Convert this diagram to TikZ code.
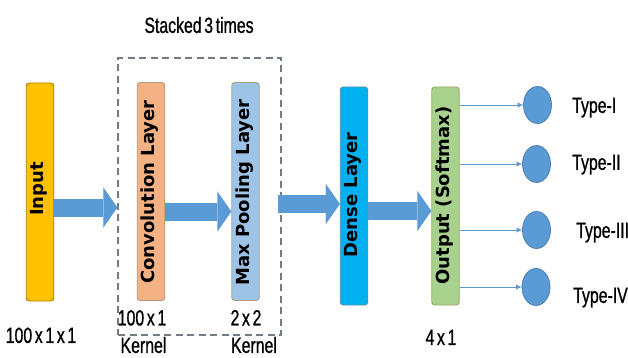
\documentclass[tikz,border=0pt]{standalone}
\usepackage{fontspec}
\newfontfamily\labfont[FakeStretch=0.72,FakeBold=0.9,WordSpace=0.6]{Liberation Sans}
\newfontfamily\barfont{DejaVu Sans}
\usetikzlibrary{arrows.meta,shapes.geometric}
\definecolor{cIn}{HTML}{FFC000}
\definecolor{cInD}{HTML}{A88000}
\definecolor{cConv}{HTML}{F4B183}
\definecolor{cConvD}{HTML}{B09878}
\definecolor{cMax}{HTML}{9DC3E6}
\definecolor{cMaxD}{HTML}{A8A080}
\definecolor{cDense}{HTML}{00B0F0}
\definecolor{cDenseD}{HTML}{5A8FA8}
\definecolor{cOut}{HTML}{A9D18E}
\definecolor{cOutD}{HTML}{9AA860}
\definecolor{cArrow}{HTML}{5B9BD5}
\definecolor{cCirc}{HTML}{5B9BD5}
\definecolor{cCircD}{HTML}{4A7FB0}
\definecolor{cDash}{HTML}{737B85}
\begin{document}
\begin{tikzpicture}[x=1pt,y=-1pt,
  bar/.style={rectangle, rounded corners=3pt, line width=0.9pt, minimum width=27.5pt, minimum height=218pt, inner sep=0pt},
  barlab/.style={font=\barfont\bfseries\fontsize{18}{18}\selectfont, rotate=90, inner sep=0pt},
  lab/.style={font=\labfont\fontsize{22}{22}\selectfont, inner sep=0pt, text height=15.8pt, text depth=0pt},
  blockarrow/.style={draw=cArrow, line width=18pt, -{Triangle[length=14pt, width=40pt, line width=0.01pt]}},
  thinarrow/.style={draw=cArrow, line width=0.9pt, -{Latex[length=5.5pt, width=5.5pt]}},
  outcirc/.style={ellipse, fill=cCirc, draw=cCircD, line width=0.8pt, minimum width=28pt, minimum height=37pt, inner sep=0pt}
]
\fill[white] (0,0) rectangle (628,358);
\useasboundingbox (0,0) rectangle (628,358);

% dashed stacking box
\node[draw=cDash, dash pattern=on 7pt off 4.5pt, line width=1.3pt, minimum width=163pt, minimum height=277pt, inner sep=0pt] (stack) at (199.5,196.5) {};
\node[lab] (stackT) at (199,25) {Stacked 3 times};

% bars
\node[bar, fill=cIn, draw=cInD] (in) at (40,192) {};
\node[bar, fill=cConv, draw=cConvD] (conv) at (151,191.5) {};
\node[bar, fill=cMax, draw=cMaxD] (max) at (245.5,191.5) {};
\node[bar, fill=cDense, draw=cDenseD] (dense) at (354,196) {};
\node[bar, fill=cOut, draw=cOutD] (out) at (445.5,196) {};

\node[barlab] (inT) at (39,189) {Input};
\node[barlab] (convT) at (149.5,192) {Convolution Layer};
\node[barlab] (maxT) at (244.5,192.5) {Max Pooling Layer};
\node[barlab] (denseT) at (353,195) {Dense Layer};
\node[barlab] (outT) at (444.5,195.5) {Output (Softmax)};

% block arrows
\draw[blockarrow] ([yshift=-15.5pt]in.east) -- ([yshift=-11pt]stack.west);
\draw[blockarrow] ([yshift=-20pt]conv.east) -- ([yshift=-20pt]max.west);
\draw[blockarrow] ([xshift=-4pt,yshift=-7.5pt]stack.east) -- ([yshift=-8pt]dense.west);
\draw[blockarrow] ([yshift=-15pt]dense.east) -- ([yshift=-15pt]out.west);

% output circles
\node[outcirc] (c1) at (537.5,105) {};
\node[outcirc] (c2) at (536.5,164) {};
\node[outcirc] (c3) at (536.5,230) {};
\node[outcirc] (c4) at (536,287) {};

\draw[thinarrow] (out.east |- c1.west) -- (c1.west);
\draw[thinarrow] (out.east |- c2.west) -- (c2.west);
\draw[thinarrow] (out.east |- c3.west) -- (c3.west);
\draw[thinarrow] (out.east |- c4.west) -- (c4.west);

\node[lab, anchor=west] (t1) at (572,105) {Type-I};
\node[lab, anchor=west] (t2) at (572,162) {Type-II};
\node[lab, anchor=west] (t3) at (576,230) {Type-III};
\node[lab, anchor=west] (t4) at (573,295) {Type-IV};

% size labels
\node[lab] (inS) at (41,335) {100 x 1 x 1};
\node[lab] (convS) at (142,317.5) {100 x 1};
\node[lab] (convK) at (143.5,345) {Kernel};
\node[lab] (maxS) at (246,317.5) {2 x 2};
\node[lab] (maxK) at (254,345) {Kernel};
\node[lab] (outS) at (441,337) {4 x 1};
\end{tikzpicture}
\end{document}
